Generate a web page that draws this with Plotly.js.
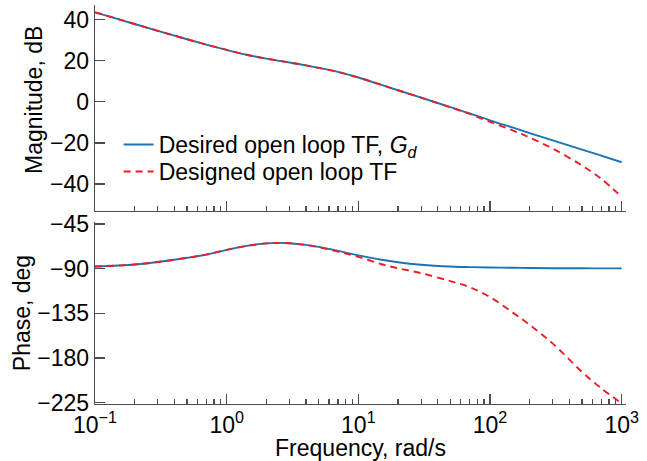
<!DOCTYPE html>
<html>
<head>
<meta charset="utf-8">
<script src="https://cdn.plot.ly/plotly-3.0.1.min.js"></script>
<style>html,body{margin:0;padding:0;background:#fff;}#chart{width:647px;height:461px;}</style>
</head>
<body>
<div id="chart"></div>
<script>
// Frequencies (rad/s)
const freq = [0.1,0.15,0.2,0.3,0.5,0.7,1,1.5,2,2.5,3,4,5,7,10,15,20,30,50,70,100,150,200,300,500,700,1000];
// Magnitude, dB
const magDesired  = [43.5,40.2,37.8,34.5,30.4,27.8,25.2,22.5,21.0,19.9,19.1,17.7,16.5,14.5,11.8,8.2,5.6,2.0,-2.6,-5.6,-9.0,-12.6,-15.2,-18.8,-23.3,-26.2,-29.4];
const magDesigned = [43.5,40.2,37.8,34.5,30.4,27.8,25.2,22.5,21.0,19.9,19.1,17.7,16.5,14.5,11.8,8.2,5.6,2.0,-2.7,-5.9,-9.8,-14.0,-17.4,-22.8,-31.0,-37.5,-46.2];
// Phase, deg
const phDesired  = [-87.8,-86.8,-85.8,-83.3,-79.0,-75.8,-71.0,-66.5,-64.5,-64.0,-64.3,-66.0,-68.0,-72.0,-76.5,-81.0,-83.5,-86.0,-87.8,-88.4,-88.8,-89.1,-89.3,-89.5,-89.6,-89.7,-89.7];
const phDesigned = [-87.8,-86.8,-85.8,-83.3,-79.0,-75.8,-71.0,-66.5,-64.5,-64.0,-64.3,-66.0,-68.3,-72.8,-78.0,-85.5,-89.5,-94.5,-102.5,-108.5,-118.5,-134.5,-146.5,-165.5,-194.0,-210.5,-225.6];
// Tick labels
const xTickVals = [0.1,1,10,100,1000];
const xTickText = ['10<sup>\u22121</sup>','10<sup>0</sup>','10<sup>1</sup>','10<sup>2</sup>','10<sup>3</sup>'];
const magTicks = [40,20,0,-20,-40];
const phTicks = [-45,-90,-135,-180,-225];
const names = ['Desired open loop TF, <i>G<sub>d</sub></i>','Designed open loop TF'];
const titles = {mag:'Magnitude, dB', phase:'Phase, deg', freq:'Frequency, rad/s'};

const minorVals = [];
for (let e = -1; e < 3; e++) for (let m = 2; m <= 9; m++) minorVals.push(m * Math.pow(10, e));

const blue = '#1a73b5', red = '#ee1c25', axc = '#4d4d4d';
const FONT = 'Liberation Sans, Arial, sans-serif';
const XR = [-1, 3.033];
const DASH = '7px,5px';

const traces = [
  {x: freq, y: magDesired, xaxis:'x', yaxis:'y', mode:'lines', name:names[0], legend:'legend', line:{color:blue, width:1.9, shape:'spline'}},
  {x: freq, y: magDesigned, xaxis:'x', yaxis:'y', mode:'lines', name:names[1], legend:'legend2', line:{color:red, width:1.9, dash:DASH, shape:'spline'}},
  {x: freq, y: phDesired, xaxis:'x2', yaxis:'y2', mode:'lines', showlegend:false, line:{color:blue, width:1.9, shape:'spline'}},
  {x: freq, y: phDesigned, xaxis:'x2', yaxis:'y2', mode:'lines', showlegend:false, line:{color:red, width:1.9, dash:DASH, shape:'spline'}},
  {x: [], y: [], xaxis:'x3', yaxis:'y', mode:'lines', showlegend:false, hoverinfo:'skip'},
  {x: [], y: [], xaxis:'x4', yaxis:'y2', mode:'lines', showlegend:false, hoverinfo:'skip'}
];

function xax(showLabels, anchor) {
  return {
    type:'log', range:XR, anchor: anchor, domain:[0,1],
    showline:true, linecolor:axc, linewidth:1.3, mirror:false,
    showgrid:false, zeroline:false,
    ticks:'inside', ticklen:10, tickwidth:1.3, tickcolor:axc,
    tickmode:'array', tickvals:xTickVals, ticktext:xTickText,
    showticklabels: showLabels,
    tickfont:{size:23, color:'#000', family:FONT}
  };
}
function minorAx(over, anchor) {
  return {
    type:'log', range:XR, overlaying: over, anchor: anchor, domain:[0,1],
    showline:false, showgrid:false, zeroline:false,
    ticks:'inside', ticklen:5, tickwidth:1.3, tickcolor:axc,
    tickmode:'array', tickvals:minorVals, showticklabels:false
  };
}
function yax(domain, range, ticks, anchor) {
  return {domain:domain, range:range, anchor:anchor, showline:true, linecolor:axc, linewidth:1.3,
    showgrid:false, zeroline:false, ticks:'inside', ticklen:10, tickwidth:1.3, tickcolor:axc,
    tickmode:'array', tickvals:ticks, tickfont:{size:23, color:'#000', family:FONT}};
}

const yPh = yax([0,0.456], [-226.3,-43], phTicks, 'x2');
yPh.title = {text:titles.phase, font:{size:23, family:FONT}, standoff:0};

const layout = {
  width:647, height:461,
  margin:{l:95, r:21, t:5, b:57},
  paper_bgcolor:'#fff', plot_bgcolor:'#fff',
  font:{family:FONT, size:23, color:'#000'},
  showlegend:true,
  legend:{x:0.0445, y:0.7043, xanchor:'left', yanchor:'top', bgcolor:'rgba(0,0,0,0)', font:{size:23, family:FONT}, itemwidth:30},
  legend2:{x:0.0445, y:0.6366, xanchor:'left', yanchor:'top', bgcolor:'rgba(0,0,0,0)', font:{size:23, family:FONT}, itemwidth:30},
  xaxis: xax(false, 'y'),
  xaxis2: Object.assign(xax(true, 'y2'), {title:{text:titles.freq, font:{size:23, family:FONT}, standoff:4}}),
  xaxis3: minorAx('x', 'y'),
  xaxis4: minorAx('x2', 'y2'),
  yaxis: yax([0.4837,1], [-53.1,47.05], magTicks, 'x'),
  yaxis2: yPh,
  annotations:[{
    text:titles.mag, textangle:-90, xref:'paper', yref:'paper',
    x:0, y:(404-100)/399, xanchor:'center', yanchor:'middle', xshift:-61,
    showarrow:false, font:{size:23, family:FONT, color:'#000'}
  }]
};

Plotly.newPlot('chart', traces, layout, {staticPlot:true, displayModeBar:false});
</script>
</body>
</html>
